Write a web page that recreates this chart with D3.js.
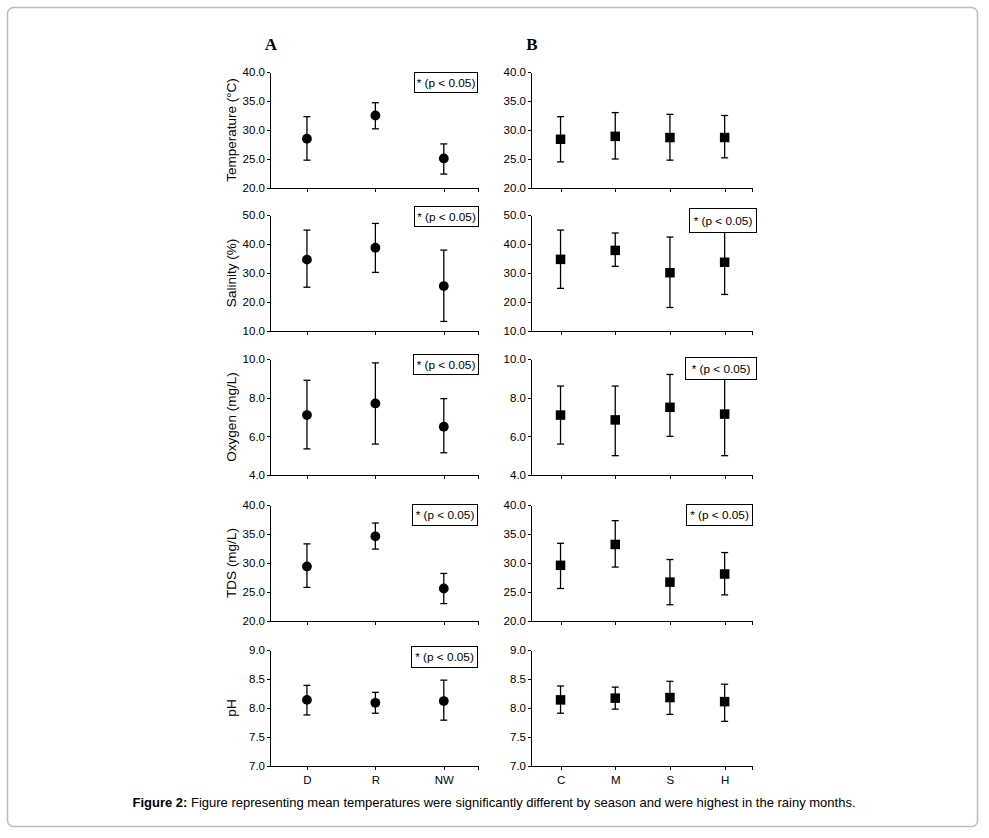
<!DOCTYPE html>
<html>
<head>
<meta charset="utf-8">
<script src="https://cdn.jsdelivr.net/npm/d3@7"></script>
<style>
  body { margin: 0; background: #fff; }
  svg { display: block; font-family: "Liberation Sans", Arial, sans-serif; }
  .axis path, .axis line { stroke: #000; stroke-width: 1; shape-rendering: crispEdges; }
  .axis text { font-size: 11.5px; fill: #000; }
</style>
</head>
<body>
<svg id="chart" width="989" height="838"></svg>
<script>
// Variáveis (uma linha por variável)
const rowLabels = ['Temperature (°C)', 'Salinity (%)', 'Oxygen (mg/L)', 'TDS (mg/L)', 'pH'];
const yDomains = [[20, 40], [10, 50], [4, 10], [20, 40], [7, 9]];
const yTicks = [
  [20, 25, 30, 35, 40],
  [10, 20, 30, 40, 50],
  [4, 6, 8, 10],
  [20, 25, 30, 35, 40],
  [7, 7.5, 8, 8.5, 9]
];

// Painel A: estações
const seasonCats = ['D', 'R', 'NW'];
const seasonMean = [
  [28.5, 32.5, 25.1],
  [34.6, 38.7, 25.5],
  [7.1, 7.7, 6.5],
  [29.4, 34.6, 25.6],
  [8.14, 8.09, 8.12]
];
const seasonHigh = [
  [32.3, 34.7, 27.6],
  [44.8, 47.1, 37.9],
  [8.9, 9.8, 7.95],
  [33.3, 36.9, 28.2],
  [8.39, 8.27, 8.48]
];
const seasonLow = [
  [24.8, 30.2, 22.4],
  [25.1, 30.2, 13.3],
  [5.35, 5.6, 5.15],
  [25.8, 32.4, 23.0],
  [7.88, 7.91, 7.79]
];
const seasonSig = [true, true, true, true, true];

// Painel B: locais
const siteCats = ['C', 'M', 'S', 'H'];
const siteMean = [
  [28.4, 28.9, 28.7, 28.7],
  [34.7, 37.8, 30.1, 33.7],
  [7.1, 6.85, 7.5, 7.15],
  [29.6, 33.2, 26.7, 28.1],
  [8.14, 8.17, 8.18, 8.11]
];
const siteHigh = [
  [32.3, 33.0, 32.7, 32.5],
  [44.8, 43.8, 42.4, 44.8],
  [8.6, 8.6, 9.2, 9.3],
  [33.4, 37.3, 30.6, 31.8],
  [8.38, 8.36, 8.46, 8.41]
];
const siteLow = [
  [24.5, 25.0, 24.8, 25.2],
  [24.7, 32.3, 18.1, 22.6],
  [5.6, 5.0, 6.0, 5.0],
  [25.6, 29.3, 22.8, 24.5],
  [7.91, 7.98, 7.89, 7.77]
];
const siteSig = [false, true, true, true, false];

const sigText = '* (p < 0.05)';

// Layout
const rowTops = [72, 215, 359, 505, 650];
const plotH = 116;
const panels = [
  { name: 'A', x0: 270, x1: 478, cats: seasonCats, mean: seasonMean, high: seasonHigh, low: seasonLow,
    sig: seasonSig, marker: 'circle', yLabels: true,
    boxes: [[414, 72, 63, 20], [414, 206, 64, 20], [413, 354, 65, 20], [412, 504, 65, 21], [411, 646, 66, 21]] },
  { name: 'B', x0: 531, x1: 752, cats: siteCats, mean: siteMean, high: siteHigh, low: siteLow,
    sig: siteSig, marker: 'square', yLabels: false,
    boxes: [null, [689, 208, 67, 24], [685, 357, 71, 22], [686, 504, 66, 21], null] }
];

const svg = d3.select('#chart');

// Moldura
svg.append('rect')
  .attr('x', 7.5).attr('y', 7.5)
  .attr('width', 970).attr('height', 819)
  .attr('rx', 6)
  .attr('fill', '#fff')
  .attr('stroke', '#bdbdbd')
  .attr('stroke-width', 1.5);

panels.forEach(p => {
  const n = p.cats.length;
  const x = d3.scaleLinear().domain([0.46, n + 0.5]).range([p.x0, p.x1]);

  // Rótulo do painel
  svg.append('text')
    .attr('x', p.x0 + 1).attr('y', 50)
    .attr('text-anchor', 'middle')
    .style('font-family', '"Liberation Serif", "Times New Roman", serif')
    .style('font-weight', 'bold')
    .style('font-size', '17px')
    .text(p.name);

  rowLabels.forEach((label, r) => {
    const top = rowTops[r];
    const y = d3.scaleLinear().domain(yDomains[r]).range([top + plotH, top]);
    const g = svg.append('g');

    // Eixos
    g.append('g')
      .attr('class', 'axis')
      .attr('transform', `translate(${p.x0},0)`)
      .call(d3.axisLeft(y).tickValues(yTicks[r]).tickFormat(d3.format('.1f'))
        .tickSize(3).tickSizeOuter(0).tickPadding(2));

    const xTickVals = d3.range(1, n + 1).concat([n + 0.5]);
    g.append('g')
      .attr('class', 'axis')
      .attr('transform', `translate(0,${top + plotH})`)
      .call(d3.axisBottom(x).tickValues(xTickVals)
        .tickFormat(d => (r === rowLabels.length - 1 && Number.isInteger(d)) ? p.cats[d - 1] : '')
        .tickSize(4).tickSizeOuter(0).tickPadding(6));

    if (p.yLabels) {
      g.append('text')
        .attr('transform', `translate(${p.x0 - 39},${top + plotH / 2}) rotate(-90)`)
        .attr('text-anchor', 'middle')
        .attr('dy', '0.35em')
        .style('font-size', '13.5px')
        .text(label);
    }

    const pts = p.cats.map((c, i) => ({ i: i + 1, m: p.mean[r][i], hi: p.high[r][i], lo: p.low[r][i] }));

    // Barras de erro
    const eb = g.selectAll('g.eb').data(pts).enter().append('g').attr('class', 'eb')
      .attr('stroke', '#000').attr('stroke-width', 1.3);
    eb.append('line')
      .attr('x1', d => x(d.i)).attr('x2', d => x(d.i))
      .attr('y1', d => y(d.hi)).attr('y2', d => y(d.lo));
    eb.append('line')
      .attr('x1', d => x(d.i) - 3.5).attr('x2', d => x(d.i) + 3.5)
      .attr('y1', d => y(d.hi)).attr('y2', d => y(d.hi));
    eb.append('line')
      .attr('x1', d => x(d.i) - 3.5).attr('x2', d => x(d.i) + 3.5)
      .attr('y1', d => y(d.lo)).attr('y2', d => y(d.lo));

    // Marcadores
    if (p.marker === 'circle') {
      g.selectAll('circle.pt').data(pts).enter().append('circle')
        .attr('class', 'pt')
        .attr('cx', d => x(d.i)).attr('cy', d => y(d.m))
        .attr('r', 4.9)
        .attr('fill', '#000');
    } else {
      g.selectAll('rect.pt').data(pts).enter().append('rect')
        .attr('class', 'pt')
        .attr('x', d => x(d.i) - 4.75).attr('y', d => y(d.m) - 4.75)
        .attr('width', 9.5).attr('height', 9.5)
        .attr('fill', '#000');
    }

    // Caixa de significância
    const b = p.boxes[r];
    if (p.sig[r] && b) {
      g.append('rect')
        .attr('x', b[0] + 0.5).attr('y', b[1] + 0.5)
        .attr('width', b[2]).attr('height', b[3])
        .attr('fill', '#fff').attr('stroke', '#000').attr('stroke-width', 1);
      g.append('text')
        .attr('x', b[0] + b[2] / 2 + 0.5).attr('y', b[1] + b[3] / 2 + 0.5)
        .attr('text-anchor', 'middle')
        .attr('dy', '0.35em')
        .style('font-size', '11.8px')
        .text(sigText);
    }
  });
});

// Legenda da figura
const cap = svg.append('text')
  .attr('x', 494).attr('y', 807)
  .attr('text-anchor', 'middle')
  .style('font-size', '13px');
cap.append('tspan').style('font-weight', 'bold').text('Figure 2:');
cap.append('tspan').text(' Figure representing mean temperatures were significantly different by season and were highest in the rainy months.');
</script>
</body>
</html>
